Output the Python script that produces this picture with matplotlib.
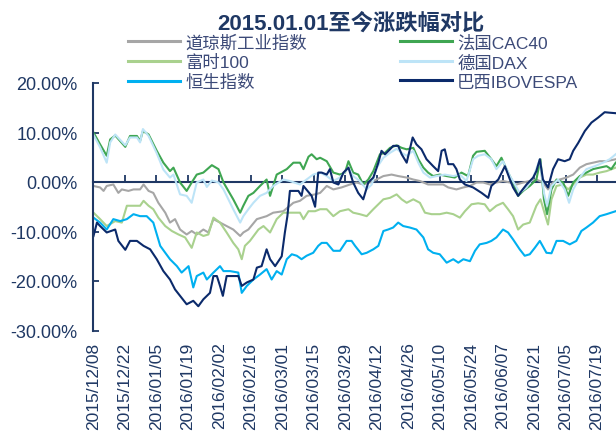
import matplotlib
matplotlib.use("Agg")
import matplotlib.pyplot as plt
from matplotlib.ticker import FuncFormatter

plt.rcParams['font.family'] = ['Liberation Sans', 'Noto Sans CJK SC', 'DejaVu Sans']

# ---------------- data (trading-day index, % change since 2015.01.01) ----------------
tick_days = [0, 10, 20, 30, 40, 50, 60, 70, 80, 90, 100, 110, 120, 130, 140, 150, 160]
tick_labels = ["2015/12/08", "2015/12/22", "2016/01/05", "2016/01/19", "2016/02/02",
               "2016/02/16", "2016/03/01", "2016/03/15", "2016/03/29", "2016/04/12",
               "2016/04/26", "2016/05/10", "2016/05/24", "2016/06/07", "2016/06/21",
               "2016/07/05", "2016/07/19"]

djia_day = [0, 2.1, 3.2, 4.2, 6.3, 7.9, 9.0, 11.1, 12.7, 14.8, 15.9, 17.5, 19.0, 20.6, 22.8,
            24.3, 25.9, 27.5, 29.6, 31.2, 32.8, 34.9, 36.5, 38.1, 40.2, 42.3, 44.4, 46.6,
            47.6, 49.2, 51.9, 55.0, 57.1, 60.3, 62.4, 63.5, 65.6, 67.7, 70.4, 72.0, 74.1,
            76.2, 78.8, 81.5, 83.6, 85.7, 87.8, 89.9, 92.1, 94.7, 96.8, 99.5, 101.6, 103.7,
            106.3, 109.0, 111.1, 112.7, 115.3, 117.5, 119.6, 121.7, 123.8, 125.9, 128.0,
            130.1, 132.3, 134.4, 136.5, 138.6, 140.7, 142.8, 144.4, 146.0, 148.1, 150.3,
            152.4, 154.5, 156.6, 158.7, 160.8, 163.0, 165.9]
djia_val = [-0.8, -1.1, -1.8, -0.8, -0.5, -2.2, -1.5, -1.8, -1.5, -1.5, -0.5, -1.8, -2.2, -4.2,
            -6.2, -8.2, -7.5, -9.6, -10.6, -9.9, -10.6, -9.6, -10.2, -7.5, -8.2, -8.9, -9.6,
            -10.9, -10.2, -9.6, -7.5, -6.9, -6.2, -5.9, -4.8, -4.2, -3.8, -2.8, -2.5, -2.2,
            -0.8, -1.5, -1.1, -0.5, -0.1, -0.5, -0.1, 0.5, 1.2, 1.5, 1.2, 0.9, 0.5, 0.2,
            -0.5, -0.5, -0.5, -1.1, -1.5, -1.1, -0.8, -0.1, -0.1, -0.5, -0.1, 0.2, -0.1,
            -0.5, -0.1, 0.2, 0.5, -0.1, -1.5, -0.1, 0.5, 0.9, 1.5, 2.9, 3.6, 3.9, 4.2, 4.2, 4.6]

ftse_day = [0, 2.1, 4.2, 6.9, 9.0, 10.6, 12.7, 14.8, 15.9, 17.5, 19.0, 20.6, 22.8, 24.9, 27.0,
            29.1, 31.2, 32.8, 34.9, 36.5, 38.1, 40.2, 42.3, 44.4, 46.0, 47.1, 48.1, 49.7,
            52.4, 54.0, 56.1, 58.2, 60.3, 63.0, 65.6, 66.7, 68.3, 70.4, 72.0, 74.1, 76.2,
            78.3, 81.0, 82.5, 84.6, 86.8, 88.9, 92.1, 94.2, 96.3, 97.9, 99.5, 101.6, 103.7,
            105.3, 107.4, 110.0, 112.2, 114.3, 116.4, 118.0, 120.1, 122.2, 124.3, 125.9,
            128.0, 130.1, 131.7, 133.3, 134.9, 136.5, 138.6, 140.7, 142.0, 143.4, 144.4,
            145.5, 147.1, 149.2, 150.8, 152.4, 154.5, 156.6, 158.7, 160.8, 163.0, 165.9]
ftse_val = [-6.2, -7.5, -8.9, -7.9, -8.2, -4.8, -4.8, -4.8, -3.8, -4.8, -5.5, -7.2, -8.9, -9.9,
            -10.6, -11.2, -13.3, -10.2, -10.9, -10.6, -7.2, -8.2, -10.2, -12.3, -13.6, -15.6,
            -12.9, -11.9, -9.6, -8.9, -10.2, -7.5, -6.2, -6.2, -6.2, -7.5, -5.9, -5.9, -5.5,
            -5.5, -6.9, -5.9, -5.5, -6.2, -6.5, -6.9, -5.5, -3.5, -3.2, -2.5, -3.5, -4.2,
            -3.5, -4.2, -6.2, -6.5, -6.5, -6.2, -6.5, -7.2, -5.9, -4.5, -4.3, -4.5, -5.9,
            -4.8, -4.2, -5.5, -6.9, -9.6, -8.6, -8.2, -4.8, -3.5, -6.5, -8.6, -3.5, -0.8,
            -0.5, -1.5, -0.5, 0.9, 1.5, 1.5, 1.9, 2.2, 2.9]

hsi_day = [0, 2.1, 4.2, 6.3, 8.5, 10.6, 12.7, 14.8, 16.9, 19.0, 21.2, 22.8, 24.3, 26.5, 28.0,
           30.2, 31.7, 32.8, 34.9, 36.0, 38.1, 40.2, 41.3, 43.4, 46.0, 47.1, 48.7, 50.8,
           52.9, 55.0, 56.6, 58.2, 59.8, 61.4, 63.0, 64.6, 66.1, 67.7, 69.8, 71.4, 72.5,
           74.1, 76.2, 78.3, 80.4, 82.0, 83.1, 85.2, 86.8, 88.9, 90.5, 92.1, 93.6, 95.2,
           96.8, 98.4, 100.5, 102.6, 104.8, 106.3, 107.9, 110.0, 112.2, 114.3, 115.9, 117.5,
           119.6, 121.2, 122.7, 124.9, 126.4, 128.0, 130.1, 131.7, 133.3, 135.4, 137.0,
           138.6, 140.2, 141.8, 143.9, 145.5, 147.1, 149.2, 151.3, 153.4, 155.0, 156.6,
           158.7, 160.8, 163.0, 165.9]
hsi_val = [-7.2, -8.2, -9.6, -7.5, -7.9, -7.5, -6.5, -6.9, -6.9, -8.2, -12.9, -14.3, -15.6,
           -17.0, -18.3, -17.0, -21.3, -19.0, -18.3, -19.7, -18.3, -17.0, -18.0, -18.0, -18.3,
           -22.4, -21.0, -19.7, -18.7, -17.6, -19.7, -18.0, -18.7, -15.6, -14.6, -14.9, -15.6,
           -14.9, -14.3, -12.9, -12.3, -12.3, -13.9, -13.9, -11.9, -11.9, -12.9, -14.6, -14.3,
           -13.6, -12.9, -9.9, -9.6, -9.2, -8.2, -8.9, -9.2, -9.6, -11.2, -13.6, -14.3, -14.6,
           -16.3, -15.6, -16.3, -15.6, -16.0, -13.9, -12.6, -12.3, -11.9, -11.2, -9.6, -10.2,
           -11.6, -13.6, -14.9, -14.6, -13.3, -11.9, -14.3, -14.4, -11.9, -11.9, -12.6, -11.9,
           -9.9, -9.2, -8.2, -6.9, -6.5, -5.9]

cac_day = [0, 2.1, 4.2, 5.3, 6.9, 10.1, 11.6, 13.8, 14.8, 15.7, 17.5, 20.1, 22.2, 24.3, 25.4,
           27.5, 29.6, 31.2, 32.8, 34.9, 37.6, 39.7, 41.3, 44.4, 46.6, 47.6, 49.2, 50.8,
           52.9, 55.0, 56.1, 58.2, 61.4, 63.5, 65.6, 66.7, 68.3, 69.3, 70.9, 72.0, 74.1,
           76.2, 78.3, 79.9, 81.0, 82.5, 84.1, 85.7, 87.3, 88.9, 91.0, 92.6, 94.2, 96.3,
           97.9, 99.5, 101.6, 103.2, 104.8, 106.3, 107.9, 110.0, 112.2, 114.8, 116.9, 119.0,
           120.6, 121.7, 124.3, 126.4, 128.0, 129.6, 131.7, 133.3, 134.9, 136.5, 138.6,
           140.7, 142.0, 143.1, 144.1, 145.5, 147.1, 149.2, 150.8, 152.4, 154.5, 156.6,
           158.7, 160.8, 163.0, 164.5, 165.9]
cac_val = [10.0, 7.6, 5.3, 8.6, 9.4, 7.1, 9.3, 9.3, 8.3, 10.3, 9.6, 6.3, 3.9, 2.2, 2.9, -0.1,
           -1.8, -0.1, 1.5, 1.9, 3.4, 2.6, -0.1, -3.5, -6.2, -4.8, -2.8, -2.2, -0.8, 0.5, -2.8,
           1.5, 2.6, 3.9, 3.9, 2.6, 5.1, 5.6, 4.6, 4.9, 4.2, 1.9, 1.5, 1.9, 4.2, 1.9, 1.5,
           -0.5, 0.5, 2.2, 5.6, 5.9, 6.9, 7.4, 6.9, 6.6, 6.9, 4.6, 2.9, 1.9, 1.2, 1.5, 1.2,
           0.9, 1.9, 1.2, 5.3, 6.1, 6.3, 4.6, 3.2, 4.9, 1.9, -0.1, -2.8, -1.8, -0.8, 0.5,
           4.6, -3.5, -6.5, -1.5, 0.5, -0.1, -2.8, -0.1, 1.2, 1.9, 2.6, 2.9, 3.2, 2.6, 3.9]

dax_day = [0, 2.1, 4.2, 5.3, 6.9, 10.1, 11.6, 13.8, 14.8, 15.7, 17.5, 20.1, 22.2, 24.3, 25.4,
           27.5, 29.6, 31.2, 32.8, 34.9, 36.0, 37.6, 39.7, 41.3, 44.4, 46.6, 47.6, 49.2,
           50.8, 52.9, 55.0, 57.1, 60.3, 62.4, 65.6, 67.7, 69.8, 72.0, 74.1, 76.2, 78.3,
           81.0, 82.5, 84.6, 86.8, 88.4, 90.0, 92.1, 94.2, 96.3, 97.9, 99.5, 101.6, 103.2,
           104.8, 106.9, 109.0, 111.6, 114.3, 116.4, 118.5, 120.6, 122.2, 124.3, 126.4,
           128.0, 130.1, 132.3, 133.9, 135.4, 137.6, 139.7, 141.8, 143.1, 144.1, 145.5,
           147.6, 149.7, 151.1, 152.4, 154.5, 156.6, 159.3, 161.9, 164.0, 165.9]
dax_val = [9.5, 7.0, 3.9, 8.0, 9.6, 7.4, 9.0, 9.0, 8.0, 10.7, 9.3, 5.8, 2.5, 0.9, 1.5, -2.5,
           -2.8, -4.2, -0.1, 0.5, -1.0, 0.3, -0.1, -1.5, -5.5, -8.2, -6.9, -5.5, -4.2, -2.8,
           -2.2, -0.8, 0.5, 0.2, -0.5, 0.5, 1.5, 1.9, 1.2, 0.2, 0.9, 2.9, 1.2, 0.2, -1.5,
           -0.5, 2.9, 4.9, 5.9, 6.7, 5.9, 5.3, 6.3, 3.9, 1.9, 0.9, 1.2, 1.5, 1.2, 1.5, 0.2,
           4.6, 5.3, 5.6, 4.6, 2.6, 4.2, 1.2, -0.5, -2.2, -1.1, 0.9, 4.6, -2.2, -4.8, -0.8,
           0.5, -1.5, -4.2, -1.5, 0.9, 2.6, 3.2, 3.9, 4.6, 5.6]

ibov_day = [0, 1.1, 2.1, 4.2, 6.9, 7.9, 10.1, 11.6, 13.8, 15.9, 18.0, 20.1, 22.2, 24.3, 25.9,
            27.5, 29.6, 31.7, 33.3, 34.9, 37.0, 38.1, 39.2, 40.2, 41.1, 42.3, 44.4, 46.0,
            47.1, 48.7, 50.8, 51.9, 53.4, 55.0, 56.1, 57.7, 59.8, 60.8, 61.6, 62.4, 65.1,
            66.1, 66.7, 69.3, 70.4, 71.4, 72.5, 74.1, 75.1, 76.2, 77.8, 79.4, 81.0, 82.5,
            84.1, 85.7, 87.3, 88.9, 90.5, 91.5, 92.6, 94.2, 95.2, 96.8, 97.9, 99.5, 100.5,
            101.4, 102.6, 104.2, 105.8, 107.9, 109.5, 110.6, 111.6, 112.7, 114.3, 115.3,
            116.4, 118.0, 120.6, 123.3, 125.4, 126.4, 128.6, 130.7, 132.3, 133.3, 134.9,
            136.0, 137.6, 139.7, 140.7, 141.8, 142.8, 144.4, 146.0, 147.6, 149.7, 151.3,
            152.4, 154.0, 156.1, 158.2, 160.3, 162.4, 164.0, 165.9]
ibov_val = [-10.9, -8.2, -8.9, -10.2, -9.6, -11.9, -13.7, -11.9, -11.9, -12.9, -13.6, -15.6,
            -18.0, -19.7, -21.7, -23.0, -24.7, -24.0, -25.1, -23.7, -22.4, -19.0, -19.0, -21.0,
            -23.0, -19.0, -19.0, -19.0, -21.0, -20.3, -19.7, -17.3, -17.0, -13.6, -15.6, -17.0,
            -15.0, -10.2, -6.9, -1.8, -1.8, -2.8, -0.8, -2.8, -5.0, 1.9, 1.9, 1.5, 2.6, -0.1,
            -0.5, 1.9, 2.9, -0.1, -2.2, -3.5, -0.1, 0.9, 3.9, 6.3, 5.6, 6.6, 7.3, 7.3, 5.6,
            3.9, 6.6, 9.0, 7.6, 6.6, 4.6, 3.2, 2.2, 6.3, 6.6, 3.6, 3.6, 2.6, 0.5, -0.5, -1.1,
            -2.2, -3.2, -0.8, 0.5, 3.2, 0.5, -1.1, -2.8, -1.8, -0.5, 0.9, 2.2, 4.6, 0.5, -1.1,
            2.6, 4.6, 4.2, 4.6, 6.3, 7.9, 10.3, 12.0, 13.0, 14.1, 14.0, 13.9]

series = [
    ("道琼斯工业指数", djia_day, djia_val, "#A6A6A6"),
    ("富时100", ftse_day, ftse_val, "#A9D18E"),
    ("恒生指数", hsi_day, hsi_val, "#00B0F0"),
    ("法国CAC40", cac_day, cac_val, "#3FA652"),
    ("德国DAX", dax_day, dax_val, "#BDE4F7"),
    ("巴西IBOVESPA", ibov_day, ibov_val, "#0B2A6B"),
]

navy = "#1F3864"
text_col = "#3C4A78"

fig = plt.figure(figsize=(6.16, 4.39), dpi=100)
ax = fig.add_axes([93.5 / 616, (439 - 331.5) / 439, 1 - 93.5 / 616, (331.5 - 84) / 439])

for name, d, v, c in series:
    ax.plot(d, v, color=c, lw=1.5, label=name, solid_joinstyle='round')

ax.set_xlim(0, 166)
ax.set_ylim(-30, 20)
ax.set_yticks([20, 10, 0, -10, -20, -30])
ax.yaxis.set_major_formatter(FuncFormatter(lambda y, p: ("-" if y < 0 else "") + "%.2f%%" % abs(y)))
ax.tick_params(axis='y', direction='in', length=4, width=1.3, color=navy,
               labelsize=13, labelcolor=navy, pad=11.5)

for s in ['top', 'right', 'bottom']:
    ax.spines[s].set_visible(False)
ax.spines['left'].set_color(navy)
ax.spines['left'].set_linewidth(1.5)

ax.set_xticks(tick_days)
ax.set_xticklabels(tick_labels, rotation=90, va='top', ha='center')
ax.tick_params(axis='x', length=0, labelsize=12.5, labelcolor=navy, pad=8)

# zero-line axis with upward ticks
sec = ax.secondary_xaxis(0.6)
sec.set_xticks(tick_days)
sec.tick_params(axis='x', length=5, width=1.3, color=navy, labeltop=False, labelbottom=False)
for s in sec.spines.values():
    s.set_color(navy)
    s.set_linewidth(1.5)

fig.text(351 / 616, 1 - 23.5 / 439, "2015.01.01至今涨跌幅对比", ha='center', va='center',
         fontsize=16, fontweight='bold', color=navy)

leg = fig.legend(loc='upper left', bbox_to_anchor=(128 / 616, 1 - 35 / 439), ncol=2,
                 frameon=False, fontsize=12.5, handlelength=3.0, handletextpad=0.3,
                 columnspacing=5.35, labelspacing=0.22, borderpad=0, borderaxespad=0)
for t in leg.get_texts():
    t.set_color(text_col)
for l in leg.get_lines():
    l.set_linewidth(2.2)

fig.savefig("out.png", dpi=100)
